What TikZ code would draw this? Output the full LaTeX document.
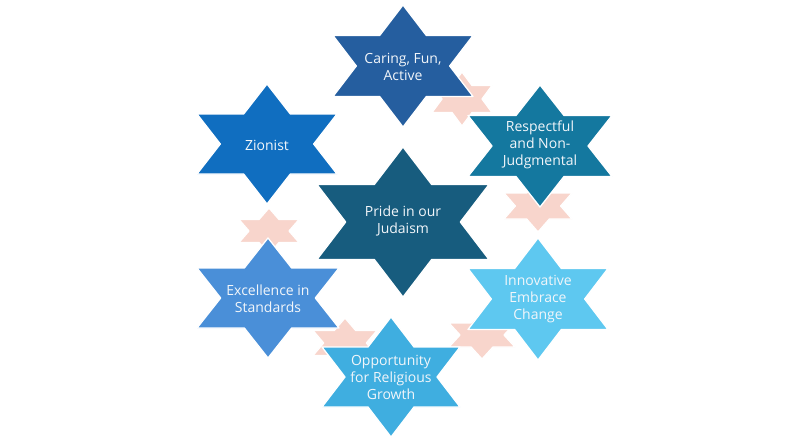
\documentclass[tikz,border=0pt]{standalone}
\usepackage{fontspec}
\setmainfont{Open Sans}
\definecolor{cCaring}{HTML}{255E9F}
\definecolor{cResp}{HTML}{14789F}
\definecolor{cZion}{HTML}{106EC0}
\definecolor{cPride}{HTML}{175C7E}
\definecolor{cExcel}{HTML}{4A8FD8}
\definecolor{cInnov}{HTML}{5EC8F0}
\definecolor{cOpp}{HTML}{3FAEE0}
\definecolor{cPink}{HTML}{F8D5CC}
\definecolor{cText}{HTML}{F2F6FA}
\newcommand\hexstar[5]{%
  \path[fill=#5, draw=white, line width=1.3pt, line join=round]
  ({#1},{#2-#4}) -- ({#1+#3/3},{#2-#4/2}) -- ({#1+#3},{#2-#4/2}) -- ({#1+2*#3/3},{#2})
  -- ({#1+#3},{#2+#4/2}) -- ({#1+#3/3},{#2+#4/2}) -- ({#1},{#2+#4})
  -- ({#1-#3/3},{#2+#4/2}) -- ({#1-#3},{#2+#4/2}) -- ({#1-2*#3/3},{#2})
  -- ({#1-#3},{#2-#4/2}) -- ({#1-#3/3},{#2-#4/2}) -- cycle;}
\begin{document}
\begin{tikzpicture}[x=1pt,y=-1pt,
  lbl/.style={text=cText, align=center, font=\fontsize{14}{17}\selectfont, inner sep=0pt}]
\useasboundingbox (0,0) rectangle (806,444);
\fill[white] (0,0) rectangle (806,444);
% pink background stars
\hexstar{462}{99}{30}{27}{cPink}
\hexstar{538}{206}{34}{26}{cPink}
\hexstar{269}{231}{30}{23}{cPink}
\hexstar{345}{343}{32}{25}{cPink}
\hexstar{482}{335}{33}{24}{cPink}
% main stars
\hexstar{403}{66}{70}{61}{cCaring}
\hexstar{540}{146}{72}{61}{cResp}
\hexstar{267}{144}{70}{60}{cZion}
\hexstar{403}{222}{86}{75}{cPride}
\hexstar{268}{298}{71}{60}{cExcel}
\hexstar{538}{299}{70}{61}{cInnov}
\hexstar{391}{377}{69}{60}{cOpp}
% labels
\node[lbl] (caring) at (403,67) {Caring, Fun,\\Active};
\node[lbl] (resp) at (540,145) {Respectful\\and Non-\\Judgmental};
\node[lbl] (zion) at (267,145) {Zionist};
\node[lbl] (pride) at (403,221) {Pride in our\\Judaism};
\node[lbl] (excel) at (268,299) {Excellence in\\Standards};
\node[lbl] (innov) at (538,299) {Innovative\\Embrace\\Change};
\node[lbl] (opp) at (391,377) {Opportunity\\for Religious\\Growth};
\end{tikzpicture}
\end{document}
